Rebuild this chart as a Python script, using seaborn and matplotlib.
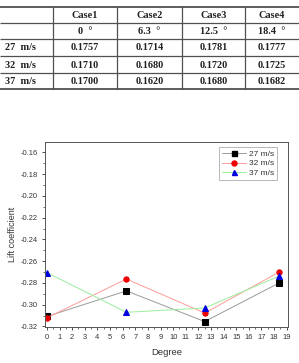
import matplotlib
matplotlib.use("Agg")
import matplotlib.pyplot as plt
import seaborn as sns
import pandas as pd
from matplotlib.lines import Line2D

# ---- data ----
cases = ["Case1", "Case2", "Case3", "Case4"]
angle_labels = ["0  \u00b0", "6.3  \u00b0", "12.5  \u00b0", "18.4  \u00b0"]
speed_labels = ["27  m/s", "32  m/s", "37  m/s"]
table_27 = ["0.1757", "0.1714", "0.1781", "0.1777"]
table_32 = ["0.1710", "0.1680", "0.1720", "0.1725"]
table_37 = ["0.1700", "0.1620", "0.1680", "0.1682"]

degrees = [0, 6.3, 12.5, 18.4]
lift_27 = [-0.3108, -0.2873, -0.3155, -0.2800]
lift_32 = [-0.3120, -0.2764, -0.3077, -0.2700]
lift_37 = [-0.2705, -0.3070, -0.3030, -0.2737]
series_names = ["27 m/s", "32 m/s", "37 m/s"]

sns.set_style("white")
plt.rcParams["font.family"] = ["Liberation Sans", "DejaVu Sans"]

W, H = 299, 363
fig = plt.figure(figsize=(W / 100, H / 100), dpi=100)

# ---- table (drawn in pixel coordinates of an overlay axes) ----
tax = fig.add_axes([0, 0, 1, 1])
tax.set_xlim(0, W)
tax.set_ylim(H, 0)
tax.axis("off")
row_edges = [7, 23, 39, 56, 73, 89]
col_edges = [53, 117, 182, 245]
lc = "#505050"
for i, y in enumerate(row_edges):
    lw = 1.3 if i in (0, len(row_edges) - 1) else 0.9
    tax.plot([0, W], [y, y], color=lc, lw=lw, solid_capstyle="butt")
for x in col_edges:
    tax.plot([x, x], [row_edges[0], row_edges[-1]], color=lc, lw=0.9)
col_centers = [(53 + 117) / 2, (117 + 182) / 2, (182 + 245) / 2, (245 + W) / 2]
row_centers = [(row_edges[i] + row_edges[i + 1]) / 2 for i in range(5)]
tfont = dict(family="Liberation Serif", weight="bold", fontsize=7.4,
             va="center", color="#202020")
rows = [cases, angle_labels, table_27, table_32, table_37]
for r, vals in enumerate(rows):
    for c, v in enumerate(vals):
        tax.text(col_centers[c], row_centers[r] + 0.5, v, ha="center", **tfont)
for r, lab in enumerate(speed_labels):
    tax.text(5, row_centers[r + 2] + 0.5, lab, ha="left", **tfont)

# ---- chart ----
ax = fig.add_axes([45 / W, 1 - 327 / H, (288 - 45) / W, (327 - 142) / H])
df = pd.DataFrame({
    "Degree": degrees * 3,
    "Lift": lift_27 + lift_32 + lift_37,
    "Speed": [series_names[0]] * 4 + [series_names[1]] * 4 + [series_names[2]] * 4,
})
line_colors = ["#9a9a9a", "#ff9a9a", "#9aee9a"]
mark_colors = ["#000000", "#ee0000", "#0000dd"]
markers = ["s", "o", "^"]
handles = []
for name, lcol, mcol, mk in zip(series_names, line_colors, mark_colors, markers):
    sub = df[df["Speed"] == name]
    sns.lineplot(data=sub, x="Degree", y="Lift", ax=ax, color=lcol, lw=0.7,
                 marker=mk, markersize=3.8, markerfacecolor=mcol,
                 markeredgecolor=mcol, legend=False)
    handles.append(Line2D([0], [0], color=lcol, lw=0.7, marker=mk,
                          markersize=3.6, markerfacecolor=mcol,
                          markeredgecolor=mcol))

ax.set_xlim(-0.15, 19.1)
ax.set_ylim(-0.3205, -0.1505)
ax.set_xticks(range(0, 20))
ax.set_yticks([-0.32, -0.30, -0.28, -0.26, -0.24, -0.22, -0.20, -0.18, -0.16])
ax.set_yticklabels(["%.2f" % v for v in ax.get_yticks()])
ax.set_xticks([i + 0.5 for i in range(19)], minor=True)
ax.set_yticks([-0.31 + 0.02 * i for i in range(8)], minor=True)
ax.tick_params(axis="both", which="major", direction="out", length=2.5,
               width=0.6, labelsize=5.4, colors="#333333", pad=2.5,
               left=True, bottom=True)
ax.tick_params(axis="both", which="minor", direction="out", length=1.5,
               width=0.5, left=True, bottom=True, colors="#333333")
for s in ax.spines.values():
    s.set_color("#555555")
    s.set_linewidth(0.7)
ax.set_xlabel("Degree", fontsize=6.8, color="#333333", labelpad=5)
ax.set_ylabel("Lift coefficient", fontsize=6.5, color="#333333", labelpad=3)

leg = ax.legend(handles, series_names, loc="upper right",
                bbox_to_anchor=(0.955, 0.972), fontsize=6, frameon=True,
                fancybox=False, edgecolor="#999999", handlelength=2.8,
                handletextpad=0.4, borderpad=0.35, labelspacing=0.2,
                borderaxespad=0)
leg.get_frame().set_linewidth(0.6)
for t in leg.get_texts():
    t.set_color("#333333")

fig.savefig("out.png", dpi=100)
